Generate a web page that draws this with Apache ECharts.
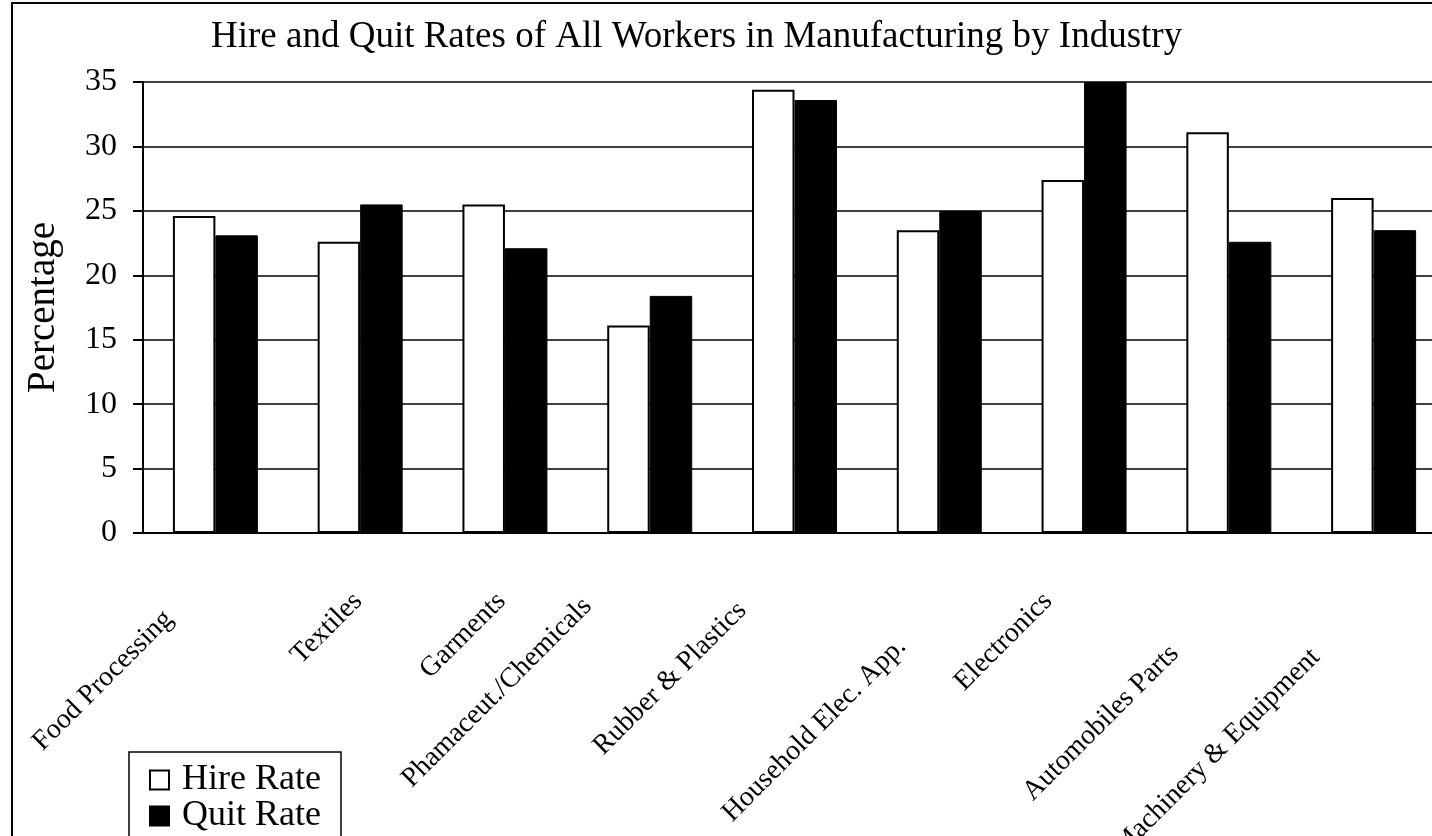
<!DOCTYPE html>
<html>
<head>
<meta charset="utf-8">
<script src="https://cdn.jsdelivr.net/npm/echarts@6/dist/echarts.min.js"></script>
<style>
html, body { margin: 0; padding: 0; background: #fff; }
#hireQuitChart { width: 1432px; height: 836px; }
</style>
</head>
<body>
<div id="hireQuitChart"></div>
<script>
// values
var industries = ['Food Processing', 'Textiles', 'Garments', 'Phamaceut./Chemicals', 'Rubber & Plastics',
    'Household Elec. App.', 'Electronics', 'Automobiles Parts', 'Machinery & Equipment']
var hireRate = [24.6, 22.6, 25.5, 16.1, 34.4, 23.5, 27.4, 31.1, 26.0]
var quitRate = [23.1, 25.5, 22.1, 18.4, 33.6, 25.0, 35.0, 22.6, 23.5]
var yTicks = [0, 5, 10, 15, 20, 25, 30, 35]

var serif = "'Liberation Serif', 'DejaVu Serif', serif"

// per label nudges (right padding, up shift) so the slanted labels sit like the original
var labelPad = [[64, 2], [20, -17], [21, -16], [66, 22], [62, 12], [77, -24], [44, 7], [94, -17], [99, -17]]
var labelRich = {}
labelPad.forEach(function(p, i) {
    var up = p[1]
    labelRich['l' + i] = {
        fontFamily: serif,
        fontSize: 28,
        color: '#000',
        padding: [up < 0 ? -2 * up : 0, p[0], up > 0 ? 2 * up : 0, 0]
    }
})

var legendText = {
    fontFamily: serif,
    fontSize: 36,
    lineHeight: 36,
    color: '#000',
    padding: [0, 0, 0, 8]
}

var chart = echarts.init(document.getElementById('hireQuitChart'))
var option = {
    backgroundColor: '#fff',
    animation: false,
    title: {
        text: 'Hire and Quit Rates of All Workers in Manufacturing by Industry',
        left: 206,
        top: 14,
        textStyle: {
            fontFamily: serif,
            fontSize: 37,
            fontWeight: 'normal',
            color: '#000'
        }
    },
    legend: [
        {
            left: 149,
            top: 762,
            padding: 0,
            itemWidth: 19,
            itemHeight: 19,
            icon: 'rect',
            textStyle: legendText,
            data: ['Hire Rate']
        },
        {
            left: 149,
            top: 798,
            padding: 0,
            itemWidth: 19,
            itemHeight: 19,
            icon: 'rect',
            textStyle: legendText,
            data: ['Quit Rate']
        }
    ],
    graphic: [
        {
            // outer frame of the picture
            type: 'rect',
            silent: true,
            z: -1,
            shape: { x: 12, y: 3, width: 1500, height: 900 },
            style: { fill: 'none', stroke: '#000', lineWidth: 2 }
        },
        {
            // legend box, runs past the bottom edge
            type: 'rect',
            silent: true,
            z: 1,
            shape: { x: 129, y: 752, width: 212, height: 120 },
            style: { fill: '#fff', stroke: '#000', lineWidth: 1.5 }
        }
    ],
    grid: {
        left: 143,
        right: -14,
        top: 82,
        bottom: 303,
        outerBoundsMode: 'none'
    },
    xAxis: {
        type: 'category',
        data: industries,
        axisLine: { show: true, lineStyle: { color: '#000', width: 2 } },
        axisTick: { show: false },
        axisLabel: {
            interval: 0,
            rotate: 45,
            margin: 38,
            formatter: function(value, index) {
                return '{l' + index + '|' + value + '}'
            },
            rich: labelRich
        }
    },
    yAxis: {
        type: 'value',
        min: yTicks[0],
        max: yTicks[yTicks.length - 1],
        interval: 5,
        name: 'Percentage',
        nameLocation: 'middle',
        nameGap: 80,
        nameTextStyle: {
            fontFamily: serif,
            fontSize: 39,
            color: '#000'
        },
        axisLine: { show: true, lineStyle: { color: '#000', width: 2 } },
        axisTick: { show: true, inside: false, length: 10, lineStyle: { color: '#000', width: 2 } },
        axisLabel: {
            margin: 26,
            fontFamily: serif,
            fontSize: 32,
            color: '#000'
        },
        splitLine: { show: true, lineStyle: { color: '#000', width: 1.5 } }
    },
    series: [
        {
            name: 'Hire Rate',
            type: 'bar',
            barWidth: 42.5,
            barGap: '0%',
            data: hireRate,
            itemStyle: { color: '#fff', borderColor: '#000', borderWidth: 2 }
        },
        {
            name: 'Quit Rate',
            type: 'bar',
            barWidth: 42.5,
            barGap: '0%',
            data: quitRate,
            itemStyle: { color: '#000', borderColor: '#000', borderWidth: 1 }
        }
    ]
}
chart.setOption(option)
window.onresize = function() {
    chart.resize()
}
</script>
</body>
</html>
